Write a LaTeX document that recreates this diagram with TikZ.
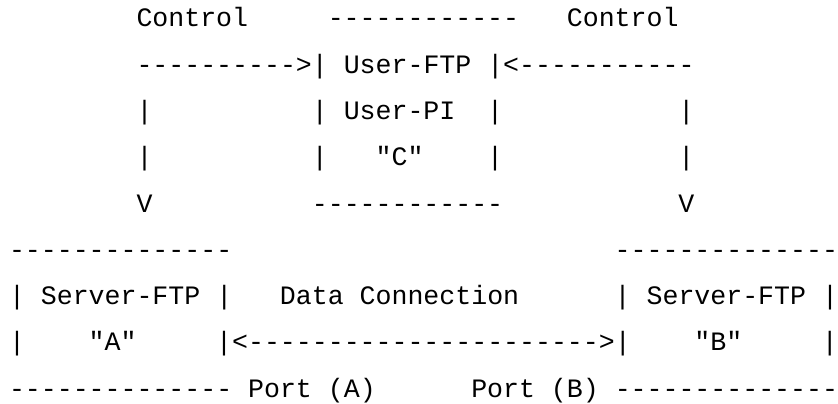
\documentclass[tikz,border=0pt]{standalone}
\usepackage{fontspec}
\setmonofont{Liberation Mono}
\tikzstyle{chunk} = [anchor=base west, inner sep=0pt, outer sep=0pt, font=\ttfamily\fontsize{19.93}{20}\selectfont]

\begin{document}
\begin{tikzpicture}[x=11.955pt, y=-34.69pt]
    \useasboundingbox (-0.5646,-0.5837) rectangle (52.0075,8.1292);
    % user side
    \node (ctlA) [chunk] at (8,0) {Control};
    \node (userTop) [chunk] at (20,0) {------------};
    \node (ctlB) [chunk] at (35,0) {Control};
    \node (userFtp) [chunk] at (8,1) {---------->| User-FTP |<-----------};
    \node (barA1) [chunk] at (8,2) {|};
    \node (userPi) [chunk] at (19,2) {| User-PI};
    \node (userR1) [chunk] at (30,2) {|};
    \node (barB1) [chunk] at (42,2) {|};
    \node (barA2) [chunk] at (8,3) {|};
    \node (userL2) [chunk] at (19,3) {|};
    \node (userC) [chunk] at (23,3) {"C"};
    \node (userR2) [chunk] at (30,3) {|};
    \node (barB2) [chunk] at (42,3) {|};
    \node (tipA) [chunk] at (8,4) {V};
    \node (userBot) [chunk] at (19,4) {------------};
    \node (tipB) [chunk] at (42,4) {V};
    % server side
    \node (srvATop) [chunk] at (0,5) {--------------};
    \node (srvBTop) [chunk] at (38,5) {--------------};
    \node (srvA) [chunk] at (0,6) {| Server-FTP |};
    \node (data) [chunk] at (17,6) {Data Connection};
    \node (srvB) [chunk] at (38,6) {| Server-FTP |};
    \node (srvAL) [chunk] at (0,7) {|};
    \node (nameA) [chunk] at (5,7) {"A"};
    \node (link) [chunk] at (13,7) {|<---------------------->|};
    \node (nameB) [chunk] at (43,7) {"B"};
    \node (srvBR) [chunk] at (51,7) {|};
    \node (portA) [chunk] at (0,8) {-------------- Port (A)};
    \node (portB) [chunk] at (29,8) {Port (B) --------------};
\end{tikzpicture}
\end{document}
